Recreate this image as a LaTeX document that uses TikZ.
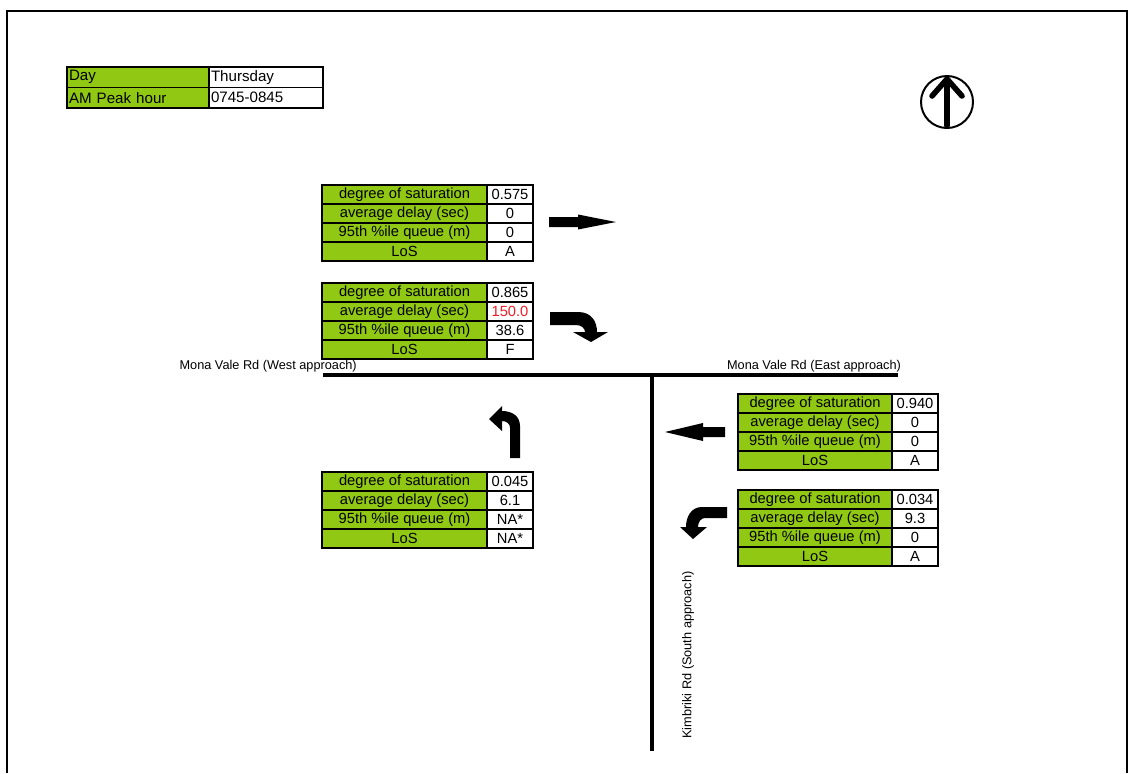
\documentclass[tikz,border=0pt]{standalone}
\usepackage{fontspec}
\setmainfont{Liberation Sans}
\usetikzlibrary{positioning}

\definecolor{cellgreen}{RGB}{145,200,20}
\definecolor{delayred}{RGB}{240,30,40}

% one pixel of the sheet
\newcommand{\pxu}{0.0265cm}

\tikzset{
  cell/.style={draw=black, line width=1.4pt, outer sep=0pt, inner sep=0pt,
    minimum height=19*\pxu, font=\fontsize{11.1}{12}\selectfont},
  greencell/.style={cell, fill=cellgreen},
  whitecell/.style={cell, fill=white, line width=0.8pt, minimum width=46*\pxu},
  infocell/.style={draw=black, line width=1.4pt, outer sep=0pt, inner xsep=2*\pxu, inner ysep=0pt,
    minimum height=20.5*\pxu, align=left, font=\fontsize{11.4}{12}\selectfont},
  road/.style={line width=2.3pt},
  roadlabel/.style={font=\fontsize{9.6}{11}\selectfont, inner sep=0pt},
}

% LoS table: name, x, y, label width, then the four values
\newcommand{\lostable}[8]{%
  \node[greencell, minimum width=#4*\pxu, anchor=north west] (#1-dos) at (#2,#3) {degree of saturation};
  \node[greencell, minimum width=#4*\pxu, below=0pt of #1-dos] (#1-delay) {average delay (sec)};
  \node[greencell, minimum width=#4*\pxu, below=0pt of #1-delay] (#1-queue) {95th \%ile queue (m)};
  \node[greencell, minimum width=#4*\pxu, below=0pt of #1-queue] (#1-los) {LoS};
  \node[whitecell, right=0pt of #1-dos] (#1-dosv) {#5};
  \node[whitecell, right=0pt of #1-delay] (#1-delayv) {#6};
  \node[whitecell, right=0pt of #1-queue] (#1-queuev) {#7};
  \node[whitecell, right=0pt of #1-los] (#1-losv) {#8};
  \draw[line width=2pt] (#1-dos.north west) rectangle (#1-losv.south east);
}

\begin{document}
\begin{tikzpicture}[x=\pxu, y=-\pxu]
    \useasboundingbox (0,0) rectangle (1129,773);

    % Sheet frame
    \draw[line width=1.6pt] (7,773) -- (7,11) -- (1127,11) -- (1127,773);

    % Day and peak hour
    \node[infocell, fill=cellgreen, text width=138*\pxu, anchor=north west] (day) at (67,67) {Day};
    \node[infocell, fill=white, text width=110*\pxu, right=0pt of day] (dayv) {Thursday};
    \node[infocell, fill=cellgreen, text width=138*\pxu, below=0pt of day] (peak) {AM Peak hour};
    \node[infocell, fill=white, text width=110*\pxu, right=0pt of peak] (peakv) {0745-0845};

    % North point
    \coordinate (N) at (947,102);
    \draw[line width=1.5pt] (N) circle (26);
    \draw[line width=4.2pt, line cap=round, line join=round]
         (947,126) -- (947,79) (932,96) -- (947,79) -- (962,96);

    % Roads
    \coordinate (X) at (652,375);
    \draw[road] (323,375) -- (898,375);
    \draw[road] (X) -- (652,751);
    \node[roadlabel, anchor=east] (westlbl) at (357,366) {Mona Vale Rd (West approach)};
    \node[roadlabel] (eastlbl) at (814,366) {Mona Vale Rd (East approach)};
    \node[roadlabel, rotate=90] (southlbl) at (688,655) {Kimbriki Rd (South approach)};

    % West approach
    \lostable{wt}{322}{185}{165}{0.575}{0}{0}{A}
    \lostable{wr}{322}{283}{165}{0.865}{\textcolor{delayred}{150.0}}{38.6}{F}
    \fill (549,217) -- (578,217) -- (578,214.5) -- (616,222) -- (578,229.5) -- (578,227) -- (549,227) -- cycle;
    \fill (550,312) -- (578,312) .. controls (592,312) and (597,322) .. (597,332) -- (608,332) -- (591,342)
          -- (573,332) -- (585,332) .. controls (585,328) and (581,325) .. (576,325) -- (550,325) -- cycle;

    % South approach
    \lostable{sl}{322}{472}{165}{0.045}{6.1}{NA*}{NA*}
    \fill (520,458) -- (520,426) .. controls (520,416) and (512,411) .. (502,411) -- (502,406) -- (489,419)
          -- (502,431) -- (502,421) .. controls (507,421) and (510,424) .. (510,428) -- (510,458) -- cycle;

    % East approach
    \lostable{et}{738}{394}{154}{0.940}{0}{0}{A}
    \lostable{el}{738}{490}{154}{0.034}{9.3}{0}{A}
    \fill (725,427) -- (703,427) -- (703,423) -- (665,432) -- (703,441) -- (703,437) -- (725,437) -- cycle;
    \fill (727,507) -- (702,507) .. controls (691,507) and (686,517) .. (686,527) -- (680,527) -- (693,539)
          -- (707,527) -- (698,527) .. controls (698,522) and (701,518) .. (705,518) -- (727,518) -- cycle;
\end{tikzpicture}
\end{document}
